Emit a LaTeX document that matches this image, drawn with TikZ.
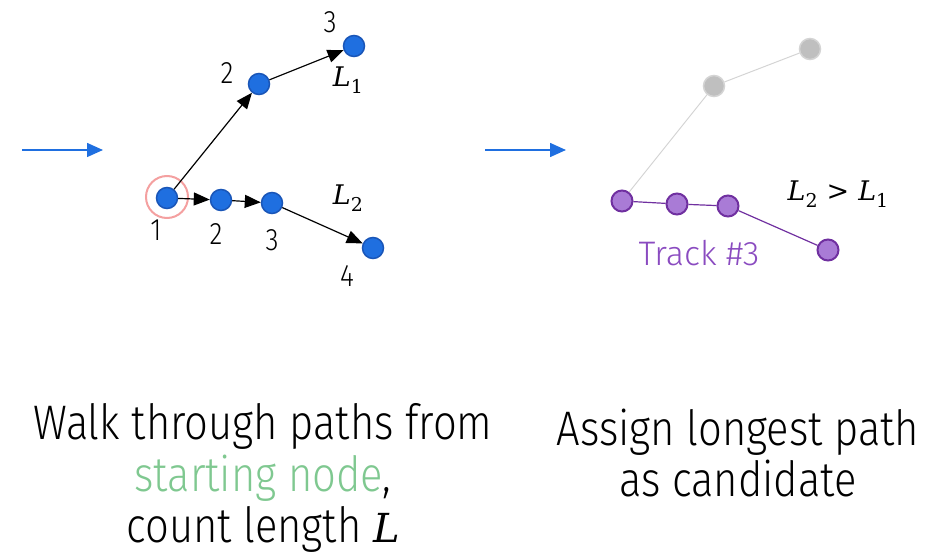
\documentclass[tikz,border=0pt]{standalone}
\usepackage{fontspec}
\setmainfont{Fira Sans}[UprightFont={* Light}, FakeStretch=0.86]
\newfontfamily\widefont{Fira Sans}[UprightFont={* Light}]
\newfontfamily\dvs{DejaVu Serif}
\newcommand{\Lsym}{{\dvs\itshape L}}
\newcommand{\Lsub}[1]{\Lsym\raisebox{-0.28em}{\dvs\fontsize{19}{20}\selectfont #1}}
\usetikzlibrary{arrows.meta}
\definecolor{nblue}{HTML}{1F6FE0}
\definecolor{nbluedk}{HTML}{1A56B8}
\definecolor{npurp}{HTML}{A97BD6}
\definecolor{npurpdk}{HTML}{7030A0}
\definecolor{ngray}{HTML}{BFBFBF}
\definecolor{ngraydk}{HTML}{D4D4D4}
\definecolor{ngreen}{HTML}{7FC890}
\definecolor{nred}{HTML}{F4A0A0}
\definecolor{tpurp}{HTML}{8A4BC0}
\tikzset{
  bnode/.style={circle, fill=nblue, draw=nbluedk, line width=1.5pt, minimum size=21pt, inner sep=0pt},
  pnode/.style={circle, fill=npurp, draw=npurpdk, line width=2pt, minimum size=21pt, inner sep=0pt},
  gnode/.style={circle, fill=ngray, draw=ngraydk, line width=1.5pt, minimum size=21pt, inner sep=0pt},
  lbl/.style={font=\fontsize{31}{32}\selectfont, inner sep=0pt},
  mlbl/.style={font=\fontsize{27}{30}\selectfont, inner sep=0pt},
  conn/.style={line width=1.2pt, -{Triangle[length=16pt,width=13pt]}},
  flow/.style={line width=1.5pt, draw=nblue, -{Triangle[length=16pt,width=14pt]}},
  captext/.style={font=\fontsize{48.5}{51.5}\selectfont, align=center, inner sep=0pt},
}
\begin{document}
\begin{tikzpicture}[x=1pt,y=-1pt]
\useasboundingbox (0,0) rectangle (930,556);
% left graph
\coordinate (fa) at (22,150);
\coordinate (fb) at (103,150);
\draw[flow] (fa) -- (fb);
\node[circle, draw=nred, line width=2pt, minimum size=42pt, inner sep=0pt] (ring) at (167,197) {};
\node[bnode] (a1) at (167,198) {};
\node[bnode] (a2) at (221,200) {};
\node[bnode] (a3) at (272,203) {};
\node[bnode] (a4) at (373,248) {};
\node[bnode] (u2) at (259,84) {};
\node[bnode] (u3) at (354,46) {};
\draw[conn] (a1) -- (u2);
\draw[conn] (u2) -- (u3);
\draw[conn] (a1) -- (a2);
\draw[conn] (a2) -- (a3);
\draw[conn] (a3) -- (a4);
\node[lbl] (t1) at (156,230) {1};
\node[lbl] (t2) at (216,234) {2};
\node[lbl] (t3) at (272,240) {3};
\node[lbl] (t4) at (347,276) {4};
\node[lbl] (tu2) at (227,73) {2};
\node[lbl] (tu3) at (330,22) {3};
\node[mlbl] (L1) at (348,80) {\Lsub{1}};
\node[mlbl] (L2) at (348,198) {\Lsub{2}};
% right graph
\coordinate (fc) at (485,150);
\coordinate (fd) at (566,150);
\draw[flow] (fc) -- (fd);
\node[gnode] (g2) at (714,86) {};
\node[gnode] (g3) at (810,49) {};
\node[pnode] (p1) at (622,201) {};
\node[pnode] (p2) at (677,204) {};
\node[pnode] (p3) at (728,206) {};
\node[pnode] (p4) at (828,250) {};
\draw[ngraydk, line width=1pt] (p1) -- (g2) -- (g3);
\draw[npurpdk, line width=1.2pt] (p1) -- (p2) -- (p3) -- (p4);
\node[mlbl] (cmp) at (838,194) {\Lsub{2}{\dvs\,\,>\,\,}\Lsub{1}};
\node[lbl, font=\widefont\fontsize{34}{36}\selectfont, text=tpurp] (trk) at (699,253) {Track \#3};
% captions
\node[captext] (capl) at (263,478) {Walk through paths from\\\textcolor{ngreen}{starting node},\\count length {\fontsize{40}{40}\selectfont\Lsym}};
\node[captext] (capr) at (738,453) {Assign longest path\\as candidate};
\end{tikzpicture}
\end{document}
